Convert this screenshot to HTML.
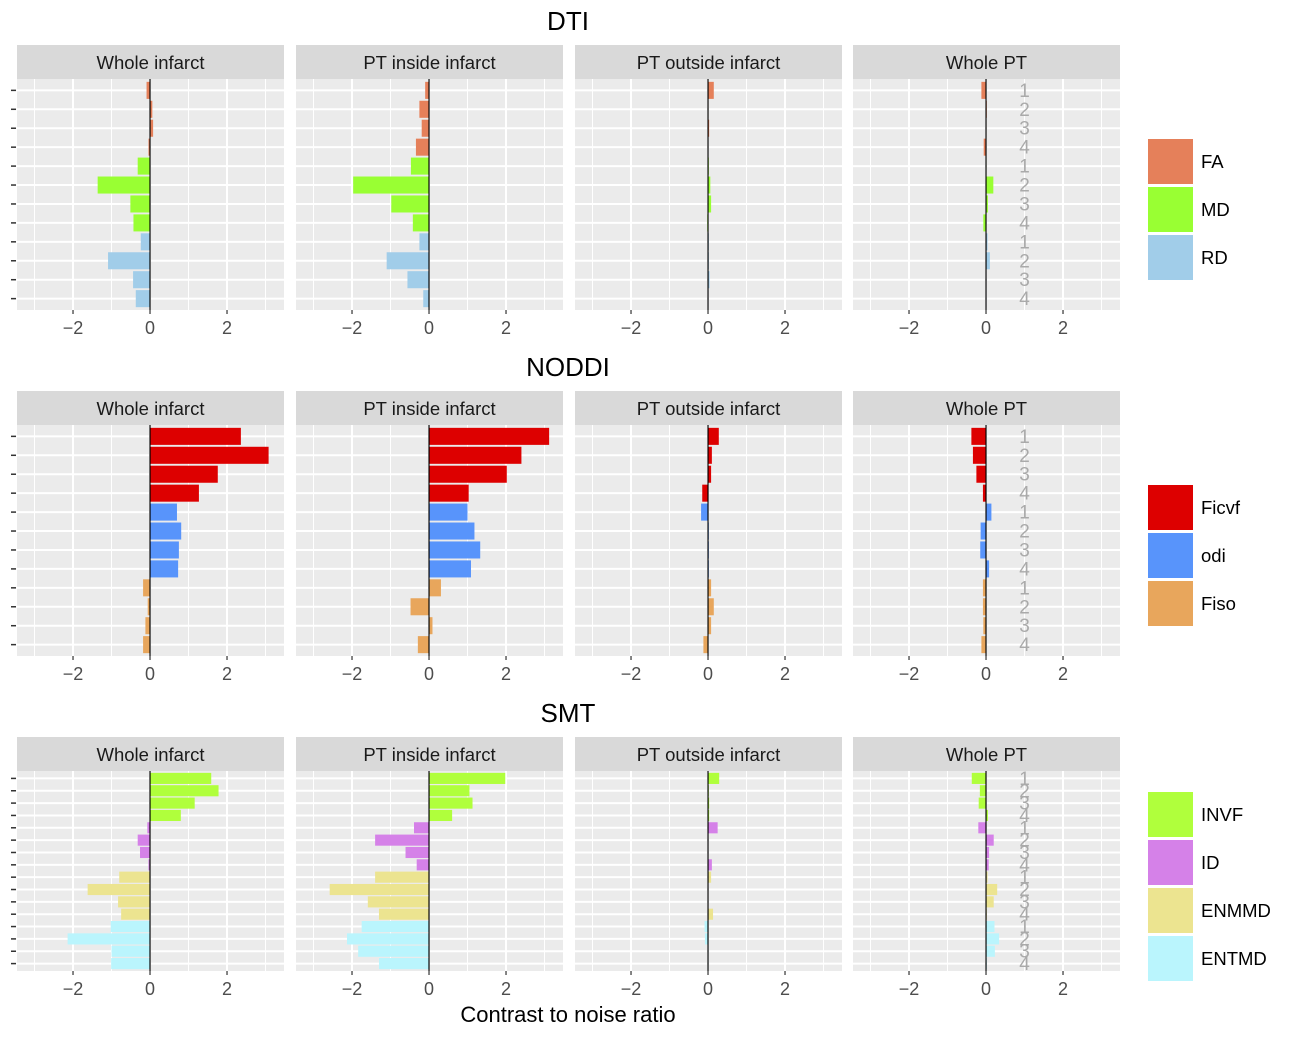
<!DOCTYPE html>
<html><head><meta charset="utf-8"><style>
html,body{margin:0;padding:0;background:#fff;}
svg{display:block;font-family:"Liberation Sans",Arial,sans-serif;}
</style></head><body>
<svg id="chart" width="1310" height="1037" viewBox="0 0 1310 1037" xmlns="http://www.w3.org/2000/svg"></svg>
<script>
const panelNames = ["Whole infarct","PT inside infarct","PT outside infarct","Whole PT"];
const xTicks = [-2,0,2];
const dtiMetrics = ["FA","MD","RD"];
const dtiColors = ["#e5805a","#99ff33","#a1cde9"];
const dtiValues = [
  [[-0.09,0.06,0.08,-0.04],[-0.32,-1.36,-0.51,-0.43],[-0.24,-1.09,-0.44,-0.37]],
  [[-0.1,-0.25,-0.19,-0.34],[-0.47,-1.97,-0.98,-0.42],[-0.25,-1.1,-0.56,-0.15]],
  [[0.15,0.0,0.03,-0.01],[0.02,0.06,0.08,-0.02],[0.02,0.02,0.04,0.01]],
  [[-0.12,0.02,0.01,-0.06],[0.01,0.19,0.05,-0.07],[0.04,0.1,0.01,0.01]]
];
const nodMetrics = ["Ficvf","odi","Fiso"];
const nodColors = ["#dd0000","#5894fb","#e8a65c"];
const nodValues = [
  [[2.36,3.08,1.76,1.27],[0.7,0.81,0.75,0.73],[-0.18,-0.06,-0.12,-0.18]],
  [[3.12,2.4,2.02,1.03],[1.0,1.18,1.33,1.09],[0.31,-0.48,0.09,-0.29]],
  [[0.28,0.1,0.08,-0.15],[-0.18,0.02,0.02,0.02],[0.08,0.15,0.08,-0.12]],
  [[-0.38,-0.34,-0.25,-0.08],[0.14,-0.14,-0.15,0.08],[-0.08,-0.08,-0.07,-0.12]]
];
const smtMetrics = ["INVF","ID","ENMMD","ENTMD"];
const smtColors = ["#b0ff3c","#d581e8","#ece490","#baf5fd"];
const smtValues = [
  [[1.59,1.78,1.16,0.8],[-0.07,-0.32,-0.26,-0.04],[-0.8,-1.62,-0.83,-0.75],[-1.02,-2.14,-1.0,-1.01]],
  [[1.98,1.05,1.13,0.6],[-0.39,-1.4,-0.61,-0.32],[-1.4,-2.58,-1.59,-1.3],[-1.75,-2.13,-1.84,-1.3]],
  [[0.29,0.02,0.03,0.03],[0.25,0.0,0.0,0.1],[0.08,0.01,0.0,0.13],[-0.09,-0.08,0.01,0.01]],
  [[-0.37,-0.16,-0.19,0.05],[-0.2,0.2,0.08,0.07],[0.04,0.29,0.2,0.02],[0.22,0.34,0.23,0.02]]
];
const rowLabels = ["1","2","3","4"];

const NS="http://www.w3.org/2000/svg";
const svg=document.getElementById('chart');
function mk(tag,attrs,parent){const e=document.createElementNS(NS,tag);for(const k in attrs)e.setAttribute(k,attrs[k]);(parent||svg).appendChild(e);return e;}
const panelLefts=[17,296,575,853];
const PW=267, XMIN=-3.455, XMAX=3.48;
function xScale(i,v){return panelLefts[i]+(v-XMIN)/(XMAX-XMIN)*PW;}

function drawGroup(key,title,titleY,top,bottom,metrics,colors,values,legendTop){
  const g=mk('g',{});
  
  
  const t=mk('text',{x:568,y:titleY,'text-anchor':'middle','font-size':26,fill:'#000'},g);
  t.textContent=title;
  
  
  const n=metrics.length*4;
  const H=bottom-top;
  const slot=H/(n-1+1.2);
  function yScale(k){return top+(0.6+k)*slot;}
  for(let p=0;p<4;p++){
    const pl=panelLefts[p];
    const sr=mk('rect',{x:pl,y:top-34,width:PW,height:34,fill:'#d9d9d9'},g);
    
    
    const st=mk('text',{x:pl+PW/2,y:top-10,'text-anchor':'middle','font-size':18.5,fill:'#1a1a1a'},g);
    st.textContent=panelNames[p];
    
    
    const bg=mk('rect',{x:pl,y:top,width:PW,height:H,fill:'#ebebeb'},g);
    
    
    [-3,-1,1,3].forEach(v=>{mk('line',{x1:xScale(p,v),x2:xScale(p,v),y1:top,y2:bottom,stroke:'#fff','stroke-width':1},g);});
    xTicks.forEach(v=>{mk('line',{x1:xScale(p,v),x2:xScale(p,v),y1:top,y2:bottom,stroke:'#fff','stroke-width':2},g);});
    for(let k=0;k<n;k++){mk('line',{x1:pl,x2:pl+PW,y1:yScale(k),y2:yScale(k),stroke:'#fff','stroke-width':2},g);}
    for(let m=0;m<metrics.length;m++){
      for(let r=0;r<4;r++){
        const v=values[p][m][r];
        const k=m*4+r;
        const x0=xScale(p,Math.min(0,v)), x1=xScale(p,Math.max(0,v));
        const b=mk('rect',{x:x0,y:yScale(k)-slot*0.45,width:Math.max(x1-x0,0.5),height:slot*0.9,fill:colors[m]},g);
        
        
      }
    }
    mk('line',{x1:xScale(p,0),x2:xScale(p,0),y1:top,y2:bottom,stroke:'#000','stroke-width':1.2},g);
    if(p===3){
      for(let k=0;k<n;k++){
        const lt=mk('text',{x:xScale(p,1),y:yScale(k)+6.5,'text-anchor':'middle','font-size':19,fill:'#aaaaaa'},g);
        lt.textContent=rowLabels[k%4];
        
        
      }
    }
    xTicks.forEach(v=>{
      mk('line',{x1:xScale(p,v),x2:xScale(p,v),y1:bottom,y2:bottom+4,stroke:'#333','stroke-width':1.2},g);
      const tl=mk('text',{x:xScale(p,v),y:bottom+24,'text-anchor':'middle','font-size':18,fill:'#4d4d4d'},g);
      tl.textContent=v<0?'\u2212'+Math.abs(v):String(v);
      
      
    });
  }
  for(let k=0;k<n;k++){mk('line',{x1:11,x2:16,y1:yScale(k),y2:yScale(k),stroke:'#333','stroke-width':1.5},g);}
  for(let m=0;m<metrics.length;m++){
    const ly=legendTop+m*48;
    const lr=mk('rect',{x:1148,y:ly,width:45,height:45,fill:colors[m]},g);
    
    
    const lt=mk('text',{x:1201,y:ly+29,'font-size':18.5,fill:'#000'},g);
    lt.textContent=metrics[m];
    
    
  }
}
drawGroup('dti','DTI',30,79,310,dtiMetrics,dtiColors,dtiValues,139);
drawGroup('noddi','NODDI',376,425,656,nodMetrics,nodColors,nodValues,485);
drawGroup('smt','SMT',722,771,971,smtMetrics,smtColors,smtValues,792);
const xt=mk('text',{x:568,y:1022,'text-anchor':'middle','font-size':22,fill:'#000'});
xt.textContent='Contrast to noise ratio';


</script>
</body></html>
